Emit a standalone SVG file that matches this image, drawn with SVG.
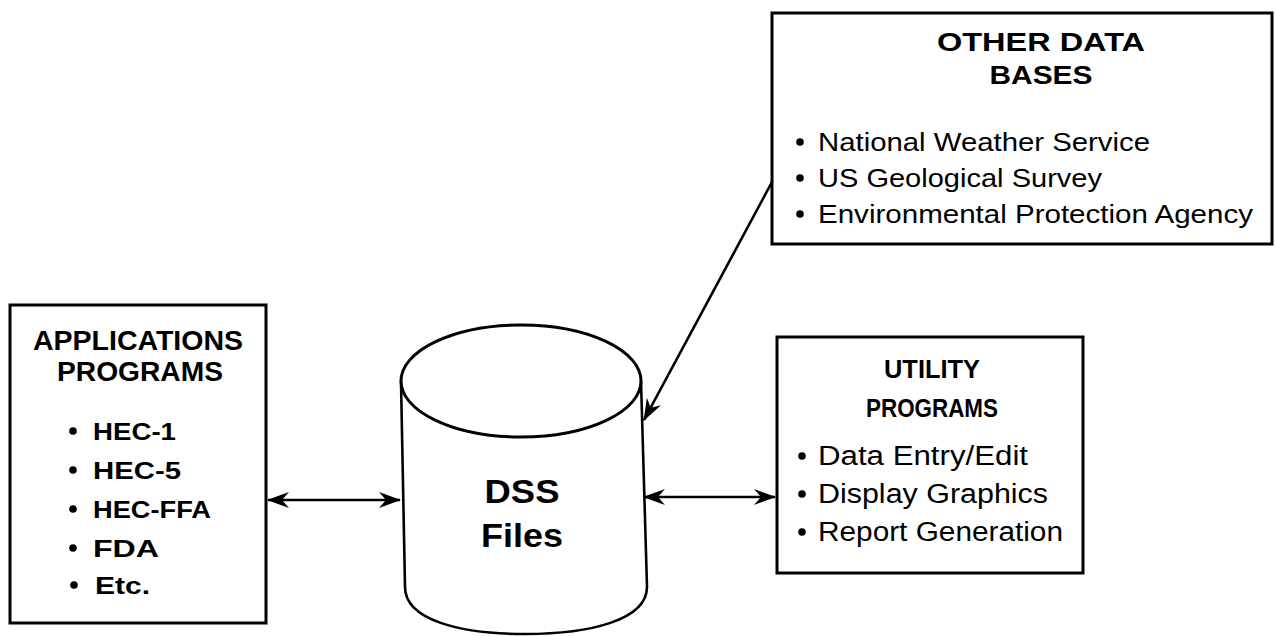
<svg xmlns="http://www.w3.org/2000/svg" width="1276" height="636" viewBox="0 0 1276 636">
<defs>
<marker id="ah" viewBox="0 0 22 16" refX="21" refY="8" markerWidth="22" markerHeight="16" markerUnits="userSpaceOnUse" orient="auto-start-reverse">
<path d="M0,0 L22,8 L0,16 L7,8 z" fill="#000"/>
</marker>
<style>
.box{fill:#fff;stroke:#000;stroke-width:3}
.t{font-family:"Liberation Sans",Arial,Helvetica,sans-serif;fill:#000}
.h{font-weight:bold;text-anchor:middle}
.b{font-weight:bold}
.conn{stroke:#000;stroke-width:2.6;fill:none}
.dot{fill:#000}
</style>
</defs>
<rect width="1276" height="636" fill="#fff"/>

<g id="connectors">
<line class="conn" x1="268" y1="500" x2="400" y2="500" marker-start="url(#ah)" marker-end="url(#ah)"/>
<line class="conn" x1="644" y1="497" x2="775" y2="497" marker-start="url(#ah)" marker-end="url(#ah)"/>
<line class="conn" x1="772" y1="182" x2="644" y2="420" marker-end="url(#ah)"/>
</g>

<g id="applications">
<rect class="box" x="10" y="305" width="256" height="318"/>
<text class="t h" x="138" y="350" font-size="27" textLength="210" lengthAdjust="spacingAndGlyphs">APPLICATIONS</text>
<text class="t h" x="140" y="381" font-size="27" textLength="166" lengthAdjust="spacingAndGlyphs">PROGRAMS</text>
<g class="t b" font-size="24">
<circle class="dot" cx="73" cy="431" r="3.8"/><text x="93" y="440" textLength="83" lengthAdjust="spacingAndGlyphs">HEC-1</text>
<circle class="dot" cx="73" cy="470" r="3.8"/><text x="93" y="479" textLength="88" lengthAdjust="spacingAndGlyphs">HEC-5</text>
<circle class="dot" cx="73" cy="509" r="3.8"/><text x="93" y="518" textLength="118" lengthAdjust="spacingAndGlyphs">HEC-FFA</text>
<circle class="dot" cx="73" cy="548" r="3.8"/><text x="93" y="557" textLength="66" lengthAdjust="spacingAndGlyphs">FDA</text>
<circle class="dot" cx="74" cy="585" r="3.8"/><text x="95" y="594" textLength="55" lengthAdjust="spacingAndGlyphs">Etc.</text>
</g>
</g>

<g id="dss">
<path class="conn" stroke-width="3" d="M401,381 L405,587 C405,620 460,634 525,634 C590,634 647,620 647,587 L641,381"/>
<ellipse cx="521" cy="381" rx="120" ry="56" fill="#fff" stroke="#000" stroke-width="3"/>
<text class="t h" x="522" y="503" font-size="34" textLength="75" lengthAdjust="spacingAndGlyphs">DSS</text>
<text class="t h" x="522" y="547" font-size="34" textLength="82" lengthAdjust="spacingAndGlyphs">Files</text>
</g>

<g id="utility">
<rect class="box" x="777" y="337" width="306" height="236"/>
<text class="t h" x="932" y="378" font-size="26" textLength="96" lengthAdjust="spacingAndGlyphs">UTILITY</text>
<text class="t h" x="932" y="417" font-size="26" textLength="132" lengthAdjust="spacingAndGlyphs">PROGRAMS</text>
<g class="t" font-size="27">
<circle class="dot" cx="802" cy="456" r="3.8"/><text x="818" y="465" textLength="210" lengthAdjust="spacingAndGlyphs">Data Entry/Edit</text>
<circle class="dot" cx="802" cy="494" r="3.8"/><text x="818" y="503" textLength="230" lengthAdjust="spacingAndGlyphs">Display Graphics</text>
<circle class="dot" cx="802" cy="532" r="3.8"/><text x="818" y="541" textLength="245" lengthAdjust="spacingAndGlyphs">Report Generation</text>
</g>
</g>

<g id="other-databases">
<rect class="box" x="772" y="13" width="500" height="231"/>
<text class="t h" x="1041" y="51" font-size="25" textLength="208" lengthAdjust="spacingAndGlyphs">OTHER DATA</text>
<text class="t h" x="1041" y="84" font-size="25" textLength="103" lengthAdjust="spacingAndGlyphs">BASES</text>
<g class="t" font-size="26">
<circle class="dot" cx="800" cy="142" r="3.8"/><text x="818" y="151" textLength="332" lengthAdjust="spacingAndGlyphs">National Weather Service</text>
<circle class="dot" cx="800" cy="178" r="3.8"/><text x="818" y="187" textLength="284" lengthAdjust="spacingAndGlyphs">US Geological Survey</text>
<circle class="dot" cx="800" cy="214" r="3.8"/><text x="818" y="223" textLength="435" lengthAdjust="spacingAndGlyphs">Environmental Protection Agency</text>
</g>
</g>
</svg>
